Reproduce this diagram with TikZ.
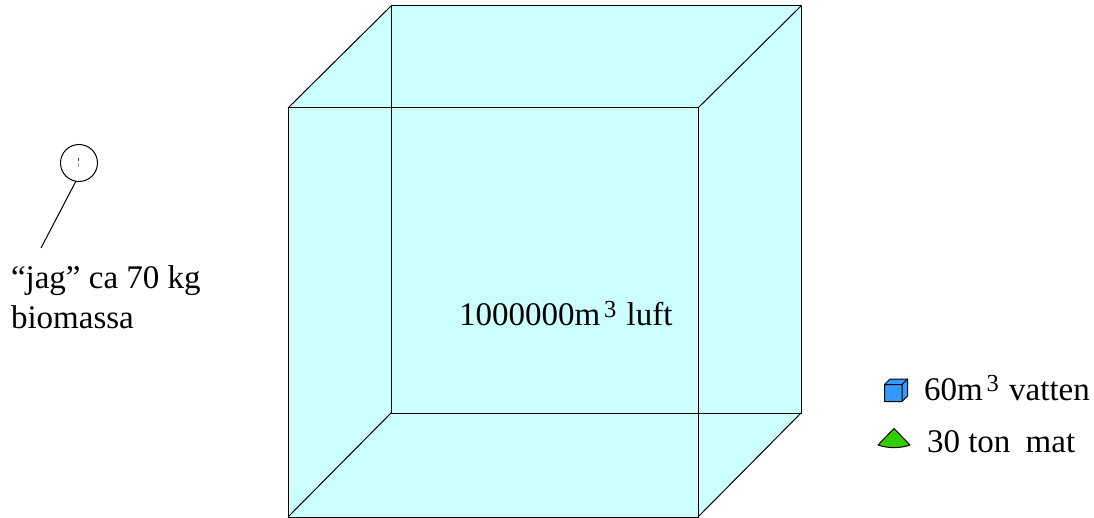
\documentclass[tikz,border=0pt]{standalone}
\usepackage{fontspec}
\setmainfont{Liberation Serif}
\newcommand{\supthree}{\hspace{4pt}\raisebox{9pt}{\fontsize{24.5}{24.5}\selectfont 3}\hspace{2pt}}
\tikzset{
  lbl/.style={inner sep=0pt,outer sep=0pt,anchor=base west,font=\fontsize{33}{33}\selectfont},
  edge/.style={draw=black,line width=1pt,line join=miter},
  thin edge/.style={draw=black,line width=1pt,line join=round}
}
\definecolor{aircol}{HTML}{CCFFFF}
\definecolor{watercol}{HTML}{3399FF}
\definecolor{foodcol}{HTML}{33CC00}
\begin{document}
\begin{tikzpicture}[x=1pt,y=-1pt]
\useasboundingbox (0,0) rectangle (1094,518);
% large cube
\coordinate (fa) at (288,108);
\coordinate (fb) at (698,108);
\coordinate (fc) at (698,517);
\coordinate (fd) at (288,517);
\coordinate (ba) at (391,6);
\coordinate (bb) at (801,6);
\coordinate (bc) at (801,413);
\coordinate (bd) at (391,413);
\fill[aircol] (fa) -- (ba) -- (bb) -- (bc) -- (fc) -- (fd) -- cycle;
\draw[thin edge] (ba) -- (bb) -- (bc) -- (bd) -- cycle;
\draw[thin edge] (fa) -- (fb) -- (fc) -- (fd) -- cycle;
\draw[thin edge] (fa) -- (ba) (fb) -- (bb) (fc) -- (bc) (fd) -- (bd);
% person
\node[circle,draw=black,line width=1pt,minimum size=37pt,inner sep=0pt] (head) at (79,163) {};
\coordinate (foot) at (41,248);
\draw[edge] (76,181) -- (foot);
\fill[black!80] (77.6,158.5) rectangle (79,161.5);
\fill[black!35] (78.3,163.5) rectangle (79.2,167);
% small cube
\coordinate (ca) at (884.5,384.5);
\coordinate (cb) at (902,384.5);
\coordinate (cc) at (902,401.5);
\coordinate (cd) at (884.5,401.5);
\coordinate (ce) at (890,379);
\coordinate (cf) at (907.5,379);
\coordinate (cg) at (907.5,396);
\filldraw[thin edge,fill=watercol] (ca) -- (ce) -- (cf) -- (cg) -- (cc) -- (cd) -- cycle;
\draw[thin edge] (ca) -- (cb) -- (cc) (cb) -- (cf);
% food pie
\filldraw[thin edge,fill=foodcol] (894,428.5) -- (910,445) .. controls (900,448.5) and (888,448.5) .. (878,445) -- cycle;
% text
\node[lbl] (t1) at (11,289) {“jag” ca 70 kg};
\node[lbl] (t2) at (11,329) {biomassa};
\node[lbl] (t3) at (459,326) {1000000m\supthree{} luft};
\node[lbl] (t4) at (924,400) {60m\supthree{} vatten};
\node[lbl] (t5) at (927,452) {30 ton\hspace{7pt} mat};
\end{tikzpicture}
\end{document}
